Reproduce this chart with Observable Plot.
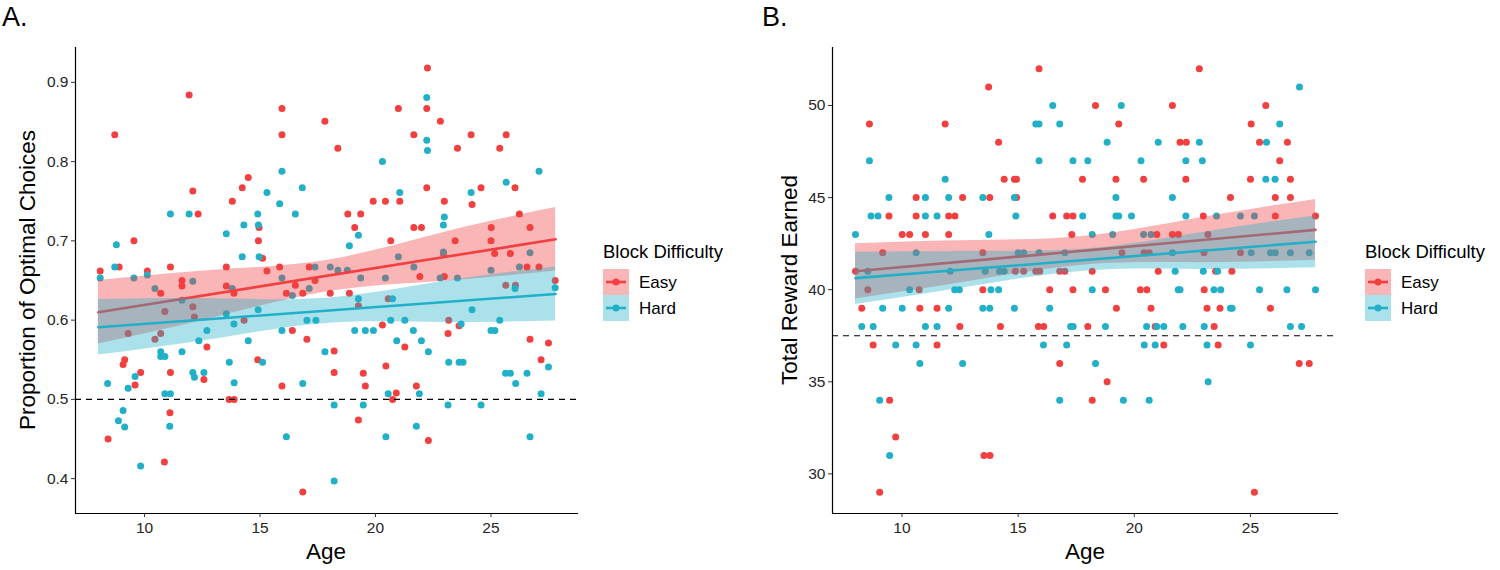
<!DOCTYPE html>
<html>
<head>
<meta charset="utf-8">
<script src="https://cdn.jsdelivr.net/npm/d3@7"></script>
<script src="https://cdn.jsdelivr.net/npm/@observablehq/plot@0.6"></script>
<style>
  body { margin: 0; background: #fff; }
  #wrap { position: relative; width: 1500px; height: 570px; font-family: 'Liberation Sans', Arial, sans-serif; color: #000; }
  #wrap svg.plot { position: absolute; top: 0; }
  #wrap svg.plot text { font-size: 15.5px; fill: #262626; }
  .lbl { position: absolute; white-space: nowrap; line-height: 1; }
</style>
</head>
<body>
<div id="wrap"></div>
<script>
// ---------------- DATA ----------------
const groups = ["Easy", "Hard"];
const groupColors = ["#F23F40", "#21B0C8"];
const xTicks = [10, 15, 20, 25];
const yTicksA = [0.4, 0.5, 0.6, 0.7, 0.8, 0.9];
const yTicksB = [30, 35, 40, 45, 50];
const chanceA = 0.5;
const chanceB = 37.5;

// Panel A – Proportion of optimal choices
const ageEasyA = [8.08,8.71,8.9,9.54,10.12,11.12,11.62,11.62,11.93,12.09,12.32,13.54,13.54,13.8,14.23,14.49,14.96,14.93,15.11,15.3,15.95,15.95,15.85,16.53,17.13,17.38,17.81,
 18.37,18.8,19.36,19.1,19.9,20.43,20.66,20.99,21.05,21.66,21.66,21.99,21.92,22.25,22.22,22.22,22.81,22.98,22.94,22.98,23.45,23.55,24.14,24.18,24.57,25.01,25.0,25.16,25.38,25.66,25.84,26.04,26.23,26.56,26.69,27.08,27.78,25.64,26.06,
 10.7,10.88,9.29,10.7,10.45,11.12,11.1,10.86,9.14,9.07,9.83,9.59,8.42,12.09,12.16,12.7,12.57,13.87,14.31,13.66,13.88,14.9,16.14,16.85,16.4,17.03,15.95,16.85,
 18.04,18.87,19.26,20.55,23.17,23.62,20.3,23.14,26.69,27.49,21.27,18.21,18.21,19.47,19.56,20.45,27.17,21.77,20.9,20.74,19.26,22.29];
const propEasyA = [0.662,0.834,0.667,0.700,0.662,0.667,0.650,0.643,0.884,0.763,0.734,0.667,0.643,0.750,0.767,0.780,0.717,0.700,0.678,0.662,0.867,0.834,0.667,0.644,0.667,0.650,0.851,
 0.817,0.734,0.734,0.717,0.750,0.750,0.700,0.867,0.750,0.834,0.717,0.717,0.655,0.918,0.867,0.767,0.851,0.750,0.684,0.655,0.700,0.817,0.834,0.746,0.767,0.717,0.700,0.684,0.817,0.834,0.684,0.767,0.734,0.667,0.717,0.667,0.650,0.644,0.644,
 0.634,0.611,0.583,0.583,0.576,0.534,0.483,0.421,0.550,0.544,0.534,0.518,0.450,0.617,0.604,0.566,0.525,0.634,0.600,0.500,0.500,0.550,0.634,0.634,0.587,0.576,0.517,0.383,
 0.634,0.634,0.618,0.627,0.600,0.593,0.594,0.583,0.576,0.571,0.566,0.561,0.534,0.533,0.517,0.542,0.550,0.517,0.508,0.500,0.474,0.448];
const ageHardA = [8.08,8.78,8.71,9.54,10.12,10.45,11.12,12.09,11.93,13.54,13.8,14.3,14.23,14.9,14.93,14.96,15.3,15.85,15.95,15.95,16.53,16.83,17.38,17.13,18.04,
 18.37,18.78,19.26,18.87,19.36,20.3,20.43,21.05,20.99,21.66,22.22,22.22,22.25,22.98,22.94,22.94,22.8,23.55,25.0,24.14,25.66,26.23,26.69,27.08,27.78,26.04,
 10.7,10.7,10.88,10.88,11.12,11.09,9.59,9.29,8.4,9.07,8.87,9.14,9.83,11.62,11.62,12.09,12.16,12.35,12.7,12.57,13.54,13.87,14.49,13.67,13.88,15.11,14.92,16.4,15.95,17.03,17.42,17.81,16.85,16.14,
 19.26,20.74,24.18,23.71,25.38,20.66,21.27,19.1,19.56,19.91,21.64,25.0,25.17,20.92,21.99,22.29,23.17,23.62,23.79,27.49,25.63,25.84,26.07,26.56,21.9,20.55,27.17,18.21,19.47,23.14,24.57,20.45,21.77,26.69,18.21];
const propHardA = [0.653,0.695,0.667,0.653,0.657,0.640,0.734,0.649,0.734,0.709,0.640,0.720,0.680,0.734,0.720,0.680,0.761,0.747,0.788,0.653,0.734,0.767,0.667,0.640,0.667,
 0.663,0.663,0.707,0.694,0.653,0.800,0.653,0.761,0.680,0.667,0.881,0.827,0.814,0.730,0.720,0.686,0.653,0.653,0.663,0.761,0.774,0.667,0.685,0.788,0.641,0.640,
 0.560,0.554,0.554,0.507,0.507,0.466,0.529,0.514,0.520,0.486,0.473,0.465,0.416,0.625,0.560,0.534,0.528,0.574,0.587,0.534,0.608,0.595,0.574,0.547,0.521,0.547,0.613,0.631,0.587,0.600,0.600,0.560,0.520,0.453,
 0.627,0.627,0.613,0.595,0.600,0.600,0.600,0.587,0.587,0.587,0.587,0.587,0.587,0.574,0.574,0.560,0.547,0.547,0.547,0.541,0.533,0.533,0.520,0.533,0.507,0.507,0.507,0.493,0.493,0.493,0.493,0.453,0.466,0.453,0.397];

// Panel B – Total reward earned
const ageEasyB = [8.0,8.6,8.53,9.17,9.44,10.01,10.33,10.61,10.61,10.74,11.01,11.86,12.01,12.28,12.01,12.61,13.78,13.73,13.48,13.48,14.16,14.4,14.84,14.93,14.93,14.88,15.24,15.9,15.76,15.93,16.49,16.36,16.79,17.01,17.09,17.36,17.31,17.77,17.36,18.19,
 8.27,10.77,11.51,12.49,14.24,15.87,16.1,18.0,8.76,11.51,16.79,9.47,18.19,9.73,13.53,13.79,9.04,
 18.33,19.33,19.21,20.4,21.64,21.97,22.24,22.8,22.22,22.97,24.14,26.07,27.8,26.07,26.72,25.0,26.72,26.26,25.39,26.59,25.03,25.66,20.97,21.64,21.9,23.17,19.47,20.42,20.64,23.0,24.57,21.03,23.5,24.2,18.76,20.26,20.54,23.01,19.23,20.72,23.13,23.69,25.86,20.9,23.44,21.27,23.61,27.1,27.53,18.83,25.17];
const rewardEasyB = [41,49,40,42,44,43,43,45,44,40,43,49,44,44,43,45,45,51,42,40,48,46,46,46,45,41,41,52,41,41,44,40,41,41,44,44,43,46,40,41,
 39,39,39,38,38,38,38,38,37,37,36,34,34,32,31,31,29,
 50,49,46,46,50,48,48,52,46,44,45,44,44,45,45,46,46,47,48,48,49,50,43,43,43,43,42,42,42,42,42,41,41,41,40,40,40,40,39,39,39,39,39,38,38,37,37,36,36,35,29];
const ageHardB = [8.0,8.6,8.67,8.97,8.53,9.44,10.33,10.61,11.01,11.01,11.51,11.86,12.01,12.08,12.27,12.47,13.48,13.74,13.58,13.83,14.16,14.2,14.4,14.84,14.9,15.0,15.24,15.76,15.9,15.9,15.9,16.49,16.79,17.01,17.36,17.78,18.0,
 9.17,10.01,12.01,13.48,13.78,14.84,16.36,8.27,8.76,11.01,11.51,17.26,17.37,9.73,10.61,16.09,17.09,10.77,12.61,9.04,16.79,9.47,
 19.44,18.83,19.21,20.29,21.03,22.8,22.22,22.93,21.64,19.21,19.33,19.88,22.22,23.54,24.57,25.17,25.66,26.06,25.69,26.26,27.11,18.19,19.07,20.4,20.72,21.64,25.03,25.86,26.07,26.72,27.53,21.76,22.97,23.59,18.19,21.89,21.97,23.43,23.72,25.39,26.57,27.8,24.14,24.21,18.76,20.53,20.97,21.27,22.09,23.01,26.72,27.2,20.43,20.9,23.13,25.0,18.33,23.18,19.53,20.64];
const rewardHardB = [43,47,44,44,41,45,40,42,45,44,44,46,45,41,40,40,45,43,41,40,40,41,41,45,44,42,42,49,49,47,42,50,49,42,47,44,47,
 39,39,39,39,39,39,39,38,38,38,38,38,38,37,37,37,37,36,36,34,34,31,
 50,48,45,47,48,48,47,47,45,44,44,44,44,44,44,44,46,46,48,49,51,43,43,43,43,42,42,42,42,42,42,41,41,41,40,40,40,40,40,40,40,40,39,39,38,38,38,38,38,38,38,38,37,37,37,37,36,35,34,34];

// Regression fits (read at the ends of the drawn lines) and confidence bands (read at several ages)
const fitAge = [8, 27.8];
const easyFitA = [0.610, 0.702];
const hardFitA = [0.591, 0.633];
const easyFitB = [41.0, 43.25];
const hardFitB = [40.63, 42.6];
const bandAge = [8, 13, 18, 23, 27.8];
const easyLoA = [0.570, 0.603, 0.636, 0.649, 0.662];
const easyHiA = [0.650, 0.663, 0.676, 0.711, 0.742];
const hardLoA = [0.556, 0.576, 0.596, 0.597, 0.599];
const hardHiA = [0.626, 0.627, 0.628, 0.649, 0.667];
const easyLoB = [39.5, 40.47, 41.36, 41.47, 41.6];
const easyHiB = [42.5, 42.67, 42.92, 43.93, 44.9];
const hardLoB = [39.2, 40.18, 41.02, 41.1, 41.19];
const hardHiB = [42.04, 42.08, 42.22, 43.12, 44.02];

// ---------------- BUILD ----------------
const xDomain = [7.01, 28.79];
const yDomainA = [0.356, 0.944];
const yDomainB = [27.85, 53.15];
const RED = groupColors[0], TEAL = groupColors[1];
const BAND_OP = 0.38;

function pts(ages, vals, g) { return ages.map((a, i) => ({age: a, v: vals[i], g})); }
function fit(vals) { return fitAge.map((a, i) => ({age: a, v: vals[i]})); }
function band(lo, hi) { return bandAge.map((a, i) => ({age: a, lo: lo[i], hi: hi[i]})); }

function panel({points, easyBand, hardBand, easyFit, hardFit, yDomain, yTicks, yFormat, chance, marginLeft, marginRight}) {
  return Plot.plot({
    width: 750, height: 570,
    marginLeft, marginRight, marginTop: 47, marginBottom: 57,
    style: {fontFamily: "'Liberation Sans', Arial, sans-serif", fontSize: "15.5px", color: "#262626", background: "transparent"},
    x: {domain: xDomain},
    y: {domain: yDomain},
    color: {domain: groups, range: groupColors},
    marks: [
      Plot.dot(points, {x: "age", y: "v", fill: "g", r: 3.5, stroke: null}),
      Plot.areaY(easyBand, {x: "age", y1: "lo", y2: "hi", fill: RED, fillOpacity: BAND_OP, curve: "natural"}),
      Plot.line(easyFit, {x: "age", y: "v", stroke: RED, strokeWidth: 2.6}),
      Plot.areaY(hardBand, {x: "age", y1: "lo", y2: "hi", fill: TEAL, fillOpacity: BAND_OP, curve: "natural"}),
      Plot.line(hardFit, {x: "age", y: "v", stroke: TEAL, strokeWidth: 2.6}),
      Plot.ruleY([chance], {stroke: "#000", strokeWidth: 1.2, strokeDasharray: "6,5"}),
      Plot.ruleX([xDomain[0]], {stroke: "#000", strokeWidth: 1.2}),
      Plot.ruleY([yDomain[0]], {stroke: "#000", strokeWidth: 1.2}),
      Plot.axisX({ticks: xTicks, tickSize: 4, tickPadding: 4, label: null, fontSize: 15.5, stroke: "#333"}),
      Plot.axisY({ticks: yTicks, tickFormat: yFormat, tickSize: 4, tickPadding: 3, label: null, fontSize: 15.5, stroke: "#333"})
    ]
  });
}

const wrap = document.getElementById("wrap");

const svgA = panel({
  points: pts(ageEasyA, propEasyA, "Easy").concat(pts(ageHardA, propHardA, "Hard")),
  easyBand: band(easyLoA, easyHiA), hardBand: band(hardLoA, hardHiA),
  easyFit: fit(easyFitA), hardFit: fit(hardFitA),
  yDomain: yDomainA, yTicks: yTicksA, yFormat: d3.format(".1f"), chance: chanceA,
  marginLeft: 75, marginRight: 172
});
svgA.classList.add("plot");
svgA.style.left = "0px";
wrap.appendChild(svgA);

const svgB = panel({
  points: pts(ageEasyB, rewardEasyB, "Easy").concat(pts(ageHardB, rewardHardB, "Hard")),
  easyBand: band(easyLoB, easyHiB), hardBand: band(hardLoB, hardHiB),
  easyFit: fit(easyFitB), hardFit: fit(hardFitB),
  yDomain: yDomainB, yTicks: yTicksB, yFormat: d3.format("d"), chance: chanceB,
  marginLeft: 82, marginRight: 162
});
svgB.classList.add("plot");
svgB.style.left = "750px";
wrap.appendChild(svgB);

// ---------------- TEXT & LEGENDS ----------------
function label(text, css) {
  const d = document.createElement("div");
  d.className = "lbl";
  d.textContent = text;
  Object.assign(d.style, css);
  wrap.appendChild(d);
  return d;
}
label("A.", {left: "2px", top: "4px", fontSize: "27px"});
label("B.", {left: "762px", top: "4px", fontSize: "27px"});
label("Proportion of Optimal Choices", {left: "28px", top: "280px", fontSize: "22.5px", transform: "translate(-50%,-50%) rotate(-90deg)"});
label("Total Reward Earned", {left: "790px", top: "280px", fontSize: "22.5px", transform: "translate(-50%,-50%) rotate(-90deg)"});
label("Age", {left: "326px", top: "552px", fontSize: "22.5px", transform: "translate(-50%,-50%)"});
label("Age", {left: "1085px", top: "552px", fontSize: "22.5px", transform: "translate(-50%,-50%)"});

function legend(left) {
  label("Block Difficulty", {left: left + "px", top: "243px", fontSize: "18.5px"});
  groups.forEach((g, i) => {
    const top = 269 + i * 25.7;
    const ns = "http://www.w3.org/2000/svg";
    const s = document.createElementNS(ns, "svg");
    s.setAttribute("width", 26); s.setAttribute("height", 26);
    s.style.position = "absolute"; s.style.left = left + "px"; s.style.top = top + "px";
    const r = document.createElementNS(ns, "rect");
    r.setAttribute("width", 26); r.setAttribute("height", 26);
    r.setAttribute("fill", groupColors[i]); r.setAttribute("fill-opacity", BAND_OP);
    const l = document.createElementNS(ns, "line");
    l.setAttribute("x1", 3); l.setAttribute("x2", 23); l.setAttribute("y1", 13); l.setAttribute("y2", 13);
    l.setAttribute("stroke", groupColors[i]); l.setAttribute("stroke-width", 2.6);
    const c = document.createElementNS(ns, "circle");
    c.setAttribute("cx", 13); c.setAttribute("cy", 13); c.setAttribute("r", 3.5);
    c.setAttribute("fill", groupColors[i]);
    s.append(r, l, c);
    wrap.appendChild(s);
    label(g, {left: (left + 36) + "px", top: (top + 13) + "px", fontSize: "17px", transform: "translateY(-50%)"});
  });
}
legend(603);
legend(1365);
</script>
</body>
</html>
